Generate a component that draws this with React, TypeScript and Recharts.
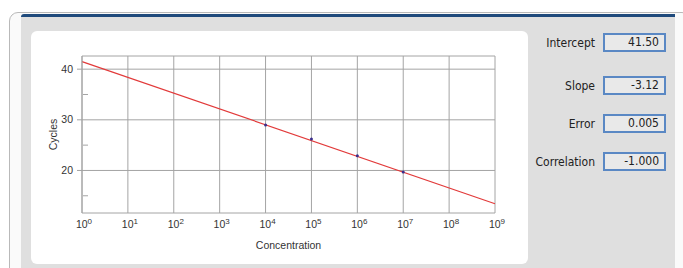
import React from 'react';
import { ComposedChart, Line, Scatter, XAxis, YAxis, ReferenceLine } from 'recharts';

// decades on the x axis (10^n)
const exponents = [0, 1, 2, 3, 4, 5, 6, 7, 8, 9];
const yTicks = [15, 20, 25, 30, 35, 40];
const yMajor = [20, 30, 40];

// standard curve (fit line end points) and measured standards
const fitX = [0, 9];
const fitY = [41.5, 13.42];
const pointX = [4, 5, 6, 7];
const pointY = [29.0, 26.2, 22.9, 19.7];

const statLabels = ['Intercept', 'Slope', 'Error', 'Correlation'];
const statValues = ['41.50', '-3.12', '0.005', '-1.000'];

const fitData = fitX.map((x, i) => ({ x, y: fitY[i] }));
const pointData = pointX.map((x, i) => ({ x, y: pointY[i] }));

const Y_DOMAIN: [number, number] = [11.6, 42.6];
const GRID = '#a4a4a4';
const FONT = '"Liberation Sans", Arial, sans-serif';
const UI_FONT = '"DejaVu Sans Condensed", "Liberation Sans", sans-serif';

const rowTops = [33, 76, 114, 152];

function XTick(props: any) {
  const { x, y, payload } = props;
  return (
    <text x={x + 2} y={y + 10} textAnchor="middle" fontSize={10.5} fill="#333" fontFamily={FONT}>
      10
      <tspan fontSize={8} dy={-4}>{payload.value}</tspan>
    </text>
  );
}

function YTick(props: any) {
  const { x, y, payload } = props;
  const axisX = x + 7; // tickSize 5 + tickMargin 2
  const major = yMajor.includes(payload.value);
  if (!major) {
    return <line x1={axisX + 1} x2={axisX + 6} y1={y} y2={y} stroke={GRID} />;
  }
  return (
    <g>
      <line x1={axisX - 5} x2={axisX} y1={y} y2={y} stroke={GRID} />
      <text x={axisX - 9} y={y + 3.5} textAnchor="end" fontSize={10.5} fill="#333" fontFamily={FONT}>
        {payload.value}
      </text>
    </g>
  );
}

export default function App() {
  return (
    <div style={{ position: 'absolute', left: 0, top: 0, width: 683, height: 268, overflow: 'hidden', background: '#fff' }}>
      {/* window frame */}
      <div style={{ position: 'absolute', left: 9, top: 12, width: 680, height: 280, border: '1px solid #b9b9b9', borderRadius: 9, background: '#fafafa' }} />
      <div style={{ position: 'absolute', left: 21, top: 14, width: 654, height: 270, background: '#dfdfdf', borderTop: '3px solid #1f4a7c', borderTopLeftRadius: 3 }} />

      {/* chart panel */}
      <div style={{ position: 'absolute', left: 31, top: 31, width: 497, height: 233, background: '#fff', borderRadius: 6 }}>
        <ComposedChart width={497} height={233} margin={{ top: 25, right: 33, bottom: 15, left: 0 }}>
          <XAxis
            dataKey="x"
            type="number"
            domain={[0, 9]}
            ticks={exponents}
            interval={0}
            tick={<XTick />}
            tickSize={3}
            tickMargin={2}
            tickLine={false}
            axisLine={{ stroke: GRID }}
            height={36}
            label={{ value: 'Concentration', position: 'insideBottom', offset: 0, fontSize: 10.5, fill: '#333', fontFamily: FONT }}
          />
          <YAxis
            dataKey="y"
            type="number"
            domain={Y_DOMAIN}
            allowDataOverflow
            ticks={yTicks}
            interval={0}
            tick={<YTick />}
            tickSize={5}
            tickMargin={2}
            tickLine={false}
            axisLine={{ stroke: GRID }}
            width={51}
            label={{ value: 'Cycles', angle: -90, position: 'center', dx: -3, fontSize: 10.5, fill: '#333', fontFamily: FONT }}
          />
          {exponents.map((e) => (
            <ReferenceLine key={`vx-${e}`} x={e} stroke={GRID} />
          ))}
          {yMajor.map((v) => (
            <ReferenceLine key={`hy-${v}`} y={v} stroke={GRID} />
          ))}
          <ReferenceLine y={Y_DOMAIN[1]} stroke={GRID} />
          <Line
            data={fitData}
            dataKey="y"
            type="linear"
            stroke="#e23a3a"
            strokeWidth={1.2}
            dot={false}
            activeDot={false}
            isAnimationActive={false}
          />
          <Scatter
            data={pointData}
            dataKey="y"
            fill="#3a2d8c"
            isAnimationActive={false}
            shape={(p: any) => <circle cx={p.cx} cy={p.cy} r={1.5} fill="#3a2d8c" />}
          />
        </ComposedChart>
      </div>

      {/* fit statistics */}
      {statLabels.map((label, i) => (
        <div key={label} style={{ position: 'absolute', left: 530, top: rowTops[i], width: 132, height: 19 }}>
          <div style={{ position: 'absolute', left: 0, top: 1, width: 65, height: 19, lineHeight: '19px', fontFamily: UI_FONT, fontSize: 12, color: '#222', textAlign: 'right' }}>
            {label}
          </div>
          <div style={{ position: 'absolute', left: 73, top: 0, width: 54, height: 15, border: '2px solid #5a88c4', background: '#e9e9e9', lineHeight: '15px', textAlign: 'right', paddingRight: 5, boxSizing: 'content-box', fontFamily: UI_FONT, fontSize: 12, color: '#222' }}>
            {statValues[i]}
          </div>
        </div>
      ))}
    </div>
  );
}
